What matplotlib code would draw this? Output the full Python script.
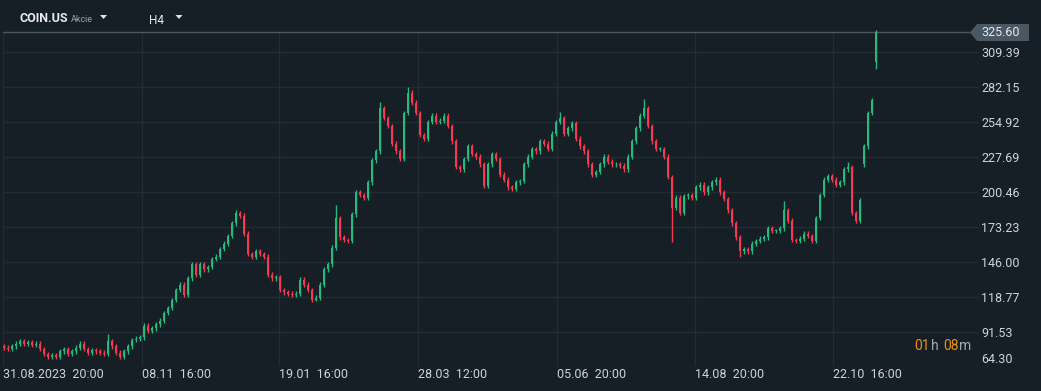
import matplotlib.pyplot as plt
from matplotlib.patches import Polygon
import numpy as np

plt.rcParams['font.family'] = ['Roboto', 'DejaVu Sans']

# H4 closes (one candle per ~4 px of the original)
closes = [
    79, 78, 80, 82, 84, 82, 83, 81, 82, 78,
    74, 72, 73, 72, 76, 78, 74, 76, 79, 82,
    78, 75, 77, 76, 75, 74, 84, 80, 75, 72,
    76, 80, 85, 86, 87, 96, 92, 94, 97, 100,
    106, 110, 116, 124, 128, 120, 133, 144, 136, 144,
    140, 142, 148, 150, 156, 160, 166, 176, 184, 182,
    168, 152, 150, 154, 152, 150, 136, 133, 134, 124,
    122, 121, 120, 121, 132, 128, 124, 116, 118, 128,
    140, 144, 157, 180, 165, 163, 162, 183, 200, 198,
    196, 208, 225, 232, 266, 258, 252, 238, 232, 226,
    262, 278, 270, 262, 245, 242, 255, 260, 255, 256,
    260, 252, 240, 220, 218, 226, 236, 230, 228, 222,
    205, 222, 230, 226, 214, 210, 204, 203, 208, 209,
    222, 228, 234, 232, 240, 238, 234, 246, 255, 258,
    246, 250, 254, 242, 236, 232, 222, 214, 216, 222,
    228, 224, 222, 222, 221, 218, 228, 240, 250, 260,
    266, 252, 240, 234, 234, 228, 212, 188, 196, 184,
    197, 198, 196, 204, 206, 200, 204, 208, 210, 200,
    195, 186, 176, 165, 154, 156, 154, 160, 162, 164,
    165, 172, 170, 170, 172, 186, 178, 163, 162, 164,
    168, 166, 162, 180, 198, 210, 213, 210, 206, 208,
    218, 220, 184, 178, 194, 236, 262, 272, 325.60,
]
first_open = 80
# gap opens (election-week jumps)
gap_open = {215: 222, 218: 302}
# candles with long wicks
wick_hi = {26: 89.6, 58: 186, 83: 190, 94: 271, 101: 282.5, 139: 263,
           160: 273, 195: 193, 211: 224, 218: 327}
wick_lo = {29: 70, 78: 115, 167: 161, 184: 150, 218: 296}

y_ticks = [309.39, 282.15, 254.92, 227.69, 200.46, 173.23, 146.00, 118.77, 91.53, 64.30]
x_tick_pos = [-0.15, 34.4, 68.8, 103.6, 138.2, 172.75, 207.3]
x_tick_labels = ["31.08.2023  20:00", "08.11  16:00", "19.01  16:00", "28.03  12:00",
                 "05.06  20:00", "14.08  20:00", "22.10  16:00"]
last_price = 325.60

BG = "#171f26"
GRID = "#232c34"
TXT = "#cfd3d7"
UP = "#26b97b"
DOWN = "#f33a4e"

W, H = 1041, 391
fig = plt.figure(figsize=(W / 100, H / 100), dpi=100)
fig.patch.set_facecolor(BG)
ax = fig.add_axes([3 / W, 1 - 366.4 / H, (979 - 3) / W, 366.4 / H])
ax.set_facecolor(BG)

c = np.array(closes, dtype=float)
o = np.concatenate([[first_open], c[:-1]])
for k, v in gap_open.items():
    o[k] = v
x = np.arange(len(c))
hi = np.maximum(o, c) + 1.8
lo = np.minimum(o, c) - 1.8
for k, v in wick_hi.items():
    hi[k] = v
for k, v in wick_lo.items():
    lo[k] = v
col = np.where(c >= o, UP, DOWN)
body = np.maximum(np.abs(c - o), 0.6)

ax.vlines(x, lo, hi, colors=col, linewidth=1, zorder=3)
ax.bar(x, body, bottom=np.minimum(o, c), width=0.6, color=col, linewidth=0, zorder=3)

ax.set_xlim(-0.25, 243.75)
ax.set_ylim(64.3, 350.2)

# grid
for yv in y_ticks:
    ax.axhline(yv, color=GRID, lw=1, zorder=1)
for xv in x_tick_pos:
    ax.axvline(xv, ymax=(366.4 - 33) / 366.4, color=GRID, lw=1, zorder=1)

# current price line
ax.axhline(last_price, xmax=(970 - 3) / 976, color="#4b5863", lw=1, zorder=2)

for s in ax.spines.values():
    s.set_visible(False)

ax.yaxis.tick_right()
ax.set_yticks(y_ticks)
ax.set_yticklabels([f"{v:.2f}" for v in y_ticks])
ax.tick_params(axis='y', length=0, pad=1.5, labelsize=9, labelcolor=TXT)
ax.get_yticklabels()[-1].set_verticalalignment('bottom')

ax.set_xticks(x_tick_pos)
ax.set_xticklabels(x_tick_labels)
ax.tick_params(axis='x', length=0, pad=1.5, labelsize=9, labelcolor=TXT)
for lab in ax.get_xticklabels():
    lab.set_horizontalalignment('left')


def fx(px):
    return px / W


def fy(py):
    return 1 - py / H


# price tag
tag = Polygon([(fx(970), fy(32.5)), (fx(977), fy(24)), (fx(1029), fy(24)),
               (fx(1029), fy(41)), (fx(977), fy(41))],
              closed=True, transform=fig.transFigure, facecolor="#4a5863",
              edgecolor="none", zorder=5)
fig.patches.append(tag)
fig.text(fx(981), fy(32.5), f"{last_price:.2f}", color="#e6e9ec", fontsize=9,
         va='center', ha='left', zorder=10)

# header
fig.text(fx(20), fy(18.5), "COIN.US", color="#e8ebee", fontsize=9, fontweight='bold',
         va='center', ha='left')
fig.text(fx(71), fy(19.5), "Akcie", color="#9aa3aa", fontsize=6.5, va='center', ha='left')
fig.text(fx(149), fy(20.5), "H4", color="#e8ebee", fontsize=8.5, va='center', ha='left')
for cx in (103.5, 179):
    fig.patches.append(Polygon([(fx(cx - 3.5), fy(15)), (fx(cx + 3.5), fy(15)), (fx(cx), fy(19))],
                               closed=True, transform=fig.transFigure,
                               facecolor="#dfe3e6", edgecolor="none"))

# candle timer
ORANGE = "#e8900f"
GRAY = "#a3abb2"
for px, s, cc in [(914, "01", ORANGE), (930.5, "h", GRAY), (943.5, "08", ORANGE), (959.5, "m", GRAY)]:
    fig.text(fx(px), fy(346), s, color=cc, fontsize=10, va='center', ha='left')

fig.savefig("out.png", dpi=100, facecolor=BG)
